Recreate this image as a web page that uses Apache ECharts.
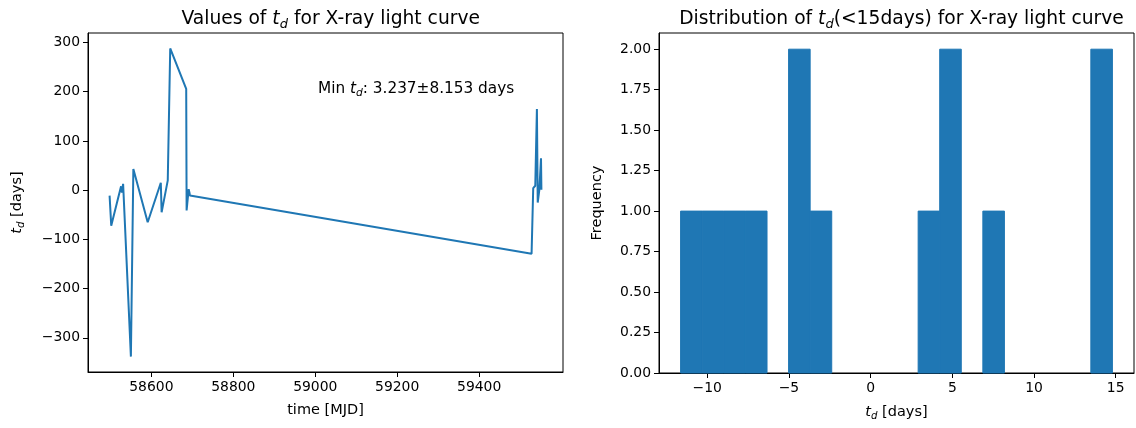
<!DOCTYPE html>
<html>
<head>
<meta charset="utf-8">
<script src="https://cdn.jsdelivr.net/npm/echarts@6/dist/echarts.min.js"></script>
<style>
html,body{margin:0;padding:0;background:#fff;}
#c{width:1136px;height:428px;}
</style>
</head>
<body>
<div id="c"></div>
<script>
// ---- data ----
const timesMJD = [58498, 58502, 58526, 58528, 58531, 58550, 58556, 58591, 58623, 58625, 58640, 58646, 58685, 58686, 58691, 58693, 58694,
                  59528, 59532, 59537, 59541, 59543, 59547, 59551, 59552];
const tdValues = [-11, -72, 8, -5, 13, -338, 43, -65, 15, -45, 20, 288, 206, -41, 2, -5, -11,
                  -129, 4, 9, 165, -25, 1, 65, 1];
const histEdges = [-11.63, -10.31, -8.99, -7.67, -6.34, -5.02, -3.70, -2.38, -1.06, 0.26, 1.59,
                   2.91, 4.23, 5.55, 6.87, 8.19, 9.51, 10.84, 12.16, 13.48, 14.80];
const histCounts = [1, 1, 1, 1, 0, 2, 1, 0, 0, 0, 0, 1, 2, 0, 1, 0, 0, 0, 0, 2];
const leftXTicks = [58600, 58800, 59000, 59200, 59400];
const leftYTicks = [-300, -200, -100, 0, 100, 200, 300];
const rightXTicks = [-10, -5, 0, 5, 10, 15];
const annotationText = '3.237±8.153 days';

const FONT = 'DejaVu Sans';
const BLUE = '#1f77b4';
const plain = v => String(v).replace('-', '\u2212');

const lineData = timesMJD.map((t, i) => [t, tdValues[i]]);
const histData = histCounts.map((c, i) => [histEdges[i], histEdges[i + 1], c]);

// matplotlib-like 5% margins
const tRange = Math.max(...timesMJD) - Math.min(...timesMJD);
const yRange = Math.max(...tdValues) - Math.min(...tdValues);
const hRange = histEdges[histEdges.length - 1] - histEdges[0];

function mkRich(size, sub, pad) {
  return {
    n: {fontFamily: FONT, fontSize: size, fontWeight: 'normal', color: '#000'},
    t: {fontFamily: FONT, fontSize: size, fontWeight: 'normal', fontStyle: 'italic', color: '#000'},
    d: {fontFamily: FONT, fontSize: sub, fontWeight: 'normal', fontStyle: 'italic', color: '#000', padding: [pad, 0, 0, 0]}
  };
}
const richTitle = mkRich(18.7, 13, 10);
const richAnn = mkRich(15.3, 10.7, 8);
const richAxis = mkRich(14.5, 10.2, 7);

const axisCommon = {
  axisLine: {show: true, onZero: false, lineStyle: {color: '#000', width: 1}},
  axisTick: {show: true, length: 5, lineStyle: {color: '#000', width: 1}},
  splitLine: {show: false},
  axisLabel: {fontFamily: FONT, fontSize: 13.9, color: '#000'}
};

const option = {
  backgroundColor: '#fff',
  animation: false,
  title: [
    {text: '{n|Values of }{t|t}{d|d}{n| for X-ray light curve}', left: 325.7, top: 3, textAlign: 'center',
     textStyle: {rich: richTitle, fontWeight: 'normal'}},
    {text: '{n|Distribution of }{t|t}{d|d}{n|(<15days) for X-ray light curve}', left: 896.5, top: 3, textAlign: 'center',
     textStyle: {rich: richTitle, fontWeight: 'normal'}},
    {text: '{n|Min }{t|t}{d|d}{n|: ' + annotationText + '}', left: 313, top: 75,
     textStyle: {rich: richAnn, fontWeight: 'normal'}}
  ],
  grid: [
    {left: 88, top: 33, width: 475, height: 339, show: true, borderColor: '#000', borderWidth: 1, containLabel: false},
    {left: 659, top: 33, width: 475, height: 340, show: true, borderColor: '#000', borderWidth: 1, containLabel: false}
  ],
  xAxis: [
    Object.assign({}, axisCommon, {
      type: 'value', gridIndex: 0,
      min: Math.min(...timesMJD) - 0.05 * tRange, max: Math.max(...timesMJD) + 0.05 * tRange,
      axisTick: Object.assign({}, axisCommon.axisTick, {customValues: leftXTicks}),
      axisLabel: Object.assign({}, axisCommon.axisLabel, {customValues: leftXTicks, margin: 8, formatter: plain}),
      name: 'time [MJD]', nameLocation: 'middle', nameGap: 31,
      nameTextStyle: {fontFamily: FONT, fontSize: 14.5, color: '#000'}
    }),
    Object.assign({}, axisCommon, {
      type: 'value', gridIndex: 1,
      min: histEdges[0] - 0.05 * hRange, max: histEdges[histEdges.length - 1] + 0.05 * hRange,
      axisTick: Object.assign({}, axisCommon.axisTick, {customValues: rightXTicks}),
      axisLabel: Object.assign({}, axisCommon.axisLabel, {customValues: rightXTicks, margin: 8, formatter: plain}),
      name: '{t|t}{d|d}{n| [days]}', nameLocation: 'middle', nameGap: 31,
      nameTextStyle: {rich: richAxis}
    })
  ],
  yAxis: [
    Object.assign({}, axisCommon, {
      type: 'value', gridIndex: 0,
      min: Math.min(...tdValues) - 0.05 * yRange, max: Math.max(...tdValues) + 0.05 * yRange,
      axisTick: Object.assign({}, axisCommon.axisTick, {customValues: leftYTicks}),
      axisLabel: Object.assign({}, axisCommon.axisLabel, {customValues: leftYTicks, margin: 8, formatter: plain}),
      name: '{t|t}{d|d}{n| [days]}', nameLocation: 'middle', nameGap: 62, nameRotate: 90,
      nameTextStyle: {rich: richAxis}
    }),
    Object.assign({}, axisCommon, {
      type: 'value', gridIndex: 1,
      min: 0, max: 2.1, interval: 0.25,
      axisLabel: Object.assign({}, axisCommon.axisLabel, {margin: 8, formatter: v => v.toFixed(2),
        showMaxLabel: false}),
      name: 'Frequency', nameLocation: 'middle', nameGap: 54, nameRotate: 90,
      nameTextStyle: {fontFamily: FONT, fontSize: 14.5, color: '#000'}
    })
  ],
  series: [
    {
      type: 'line', xAxisIndex: 0, yAxisIndex: 0, data: lineData,
      showSymbol: false, symbol: 'none',
      lineStyle: {color: BLUE, width: 2}, itemStyle: {color: BLUE}
    },
    {
      type: 'custom', xAxisIndex: 1, yAxisIndex: 1, data: histData,
      encode: {x: [0, 1], y: 2},
      renderItem: function (params, api) {
        const c = api.value(2);
        if (!c) return null;
        const p0 = api.coord([api.value(0), c]);
        const p1 = api.coord([api.value(1), 0]);
        return {type: 'rect', shape: {x: p0[0], y: p0[1], width: p1[0] - p0[0], height: p1[1] - p0[1]},
                style: {fill: BLUE, stroke: BLUE, lineWidth: 1}};
      }
    }
  ]
};
echarts.init(document.getElementById('c'), null, {renderer: 'canvas'}).setOption(option);
</script>
</body>
</html>
